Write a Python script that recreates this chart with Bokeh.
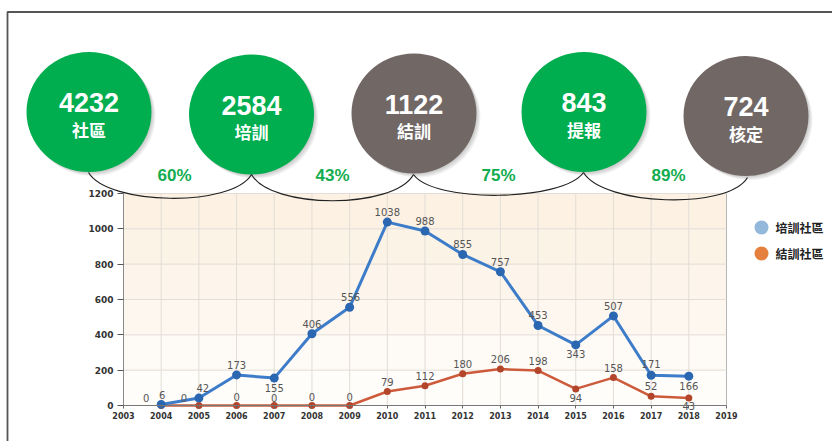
from bokeh.plotting import figure
from bokeh.models import (Range1d, FixedTicker, LinearAxis, ColumnDataSource, LabelSet)
from bokeh.core.properties import value
from bokeh.embed import file_html
from bokeh.resources import INLINE

# ---------------- data ----------------
years = [2004, 2005, 2006, 2007, 2008, 2009, 2010, 2011, 2012, 2013, 2014, 2015, 2016, 2017, 2018]
trained = [6, 42, 173, 155, 406, 556, 1038, 988, 855, 757, 453, 343, 507, 171, 166]
completed = [0, 0, 0, 0, 0, 0, 79, 112, 180, 206, 198, 94, 158, 52, 43]
x_ticks = [2003, 2004, 2005, 2006, 2007, 2008, 2009, 2010, 2011, 2012, 2013,
           2014, 2015, 2016, 2017, 2018, 2019]
y_ticks = [0, 200, 400, 600, 800, 1000, 1200]
series_names = ["培訓社區", "結訓社區"]

funnel_values = [4232, 2584, 1122, 843, 724]
funnel_labels = ["社區", "培訓", "結訓", "提報", "核定"]
funnel_rates = ["60%", "43%", "75%", "89%"]

# ---------------- layout / style (not data) ----------------
W, H = 832, 441
PX_L, PX_R = 123, 726          # pixel position of 2003 and 2019
PY_0, PY_T = 405, 193          # pixel position of 0 and 1200
X0, X1, YMAX = 2003, 2019, 1200
sx = (PX_R - PX_L) / (X1 - X0)
sy = (PY_0 - PY_T) / YMAX
x_range = Range1d(X0 - PX_L / sx, X0 + (W - PX_L) / sx)
y_range = Range1d(-(H - PY_0) / sy, YMAX + PY_T / sy)

GREEN = "#00ad4f"
GREY = "#716866"
circle_cx = [88.5, 251, 413.5, 583.5, 745.5]
circle_cy = [111.5, 114, 113, 111.5, 115.5]
circle_colors = [GREEN, GREEN, GREY, GREEN, GREY]
rate_x = [174, 332, 498, 668]
rate_y = 175
arc_start = [(88, 172), (251, 174), (413, 174), (583, 172)]
arc_end = [(251, 174), (413, 174), (583, 172), (747, 177)]
arc_depth = [33, 35, 29, 33]
legend_x, legend_y = [761, 761], [227, 253]
legend_colors = ["#93b8da", "#e5803f"]

band_edges = [0, 200, 400, 600, 800, 1000, 1200]
band_colors = ["#fffdfa", "#fefaf5", "#fdf7f0", "#fdf5eb", "#fcf3e7", "#fcf1e3"]

blue_dx = [1, 4, 0, 0, 0, 1, 0, 0, 0, 0, 0, 0, 0, 0, 0]
blue_dy = [9, 10, 10, -10, 10, 10, 10, 10, 10, 10, 10, -9, 10, 11, -10]
red_dx = [-15, -15, 0, 0, 0, 0, 0, 0, 0, 0, 0, 0, 0, 0, 0]
red_dy = [8, 8, 9, 8, 9, 9, 10, 10, 10, 10, 10, -9, 10, 10, -8]

p = figure(width=W, height=H, x_range=x_range, y_range=y_range,
           output_backend="svg", toolbar_location=None,
           x_axis_type=None, y_axis_type=None, min_border=0,
           outline_line_color=None, background_fill_color="white",
           border_fill_color="white")
p.extra_x_ranges = {"px": Range1d(0, W)}
p.extra_y_ranges = {"py": Range1d(H, 0)}
PXR = dict(x_range_name="px", y_range_name="py")

# ---------------- chart background & grid ----------------
p.quad(left=X0, right=X1, bottom=band_edges[:-1], top=band_edges[1:],
       fill_color=band_colors, line_color=None)
p.segment(x0=x_ticks[:-1], y0=0, x1=x_ticks[:-1], y1=YMAX, line_color="#e2ddd6", line_width=1)
p.segment(x0=[X1], y0=0, x1=[X1], y1=YMAX, line_color="#b5b5b5", line_width=1)
p.segment(x0=X0, y0=y_ticks[1:], x1=X1, y1=y_ticks[1:], line_color="#e2ddd6", line_width=1)

# ---------------- axes ----------------
xaxis = LinearAxis(ticker=FixedTicker(ticks=x_ticks), fixed_location=0, bounds=(X0, X1))
xaxis.axis_line_color = "#777777"
xaxis.major_tick_out = 3
xaxis.major_tick_in = 0
xaxis.major_tick_line_color = "#666666"
xaxis.minor_tick_line_color = None
xaxis.major_label_standoff = 3
xaxis.major_label_text_font = "DejaVu Sans"
xaxis.major_label_text_font_style = "bold"
xaxis.major_label_text_font_size = "8px"
xaxis.major_label_text_color = "#333333"
p.add_layout(xaxis, "below")

yaxis = LinearAxis(ticker=FixedTicker(ticks=y_ticks), fixed_location=X0, bounds=(0, YMAX))
yaxis.axis_line_color = "#8a8a8a"
yaxis.major_tick_out = 6
yaxis.major_tick_in = 0
yaxis.major_tick_line_color = "#555555"
yaxis.minor_tick_line_color = None
yaxis.major_label_standoff = 4
yaxis.major_label_text_font = "DejaVu Sans"
yaxis.major_label_text_font_style = "bold"
yaxis.major_label_text_font_size = "9px"
yaxis.major_label_text_color = "#333333"
p.add_layout(yaxis, "left")

# ---------------- series ----------------
src = ColumnDataSource(dict(
    x=years, trained=trained, completed=completed,
    t_txt=[str(v) for v in trained], c_txt=[str(v) for v in completed],
    bdx=blue_dx, bdy=blue_dy, rdx=red_dx, rdy=red_dy))

p.line("x", "completed", source=src, line_color="#cd5b3b", line_width=2.5)
p.scatter("x", "completed", source=src, size=7, fill_color="#b3452b", line_color=None)
p.line("x", "trained", source=src, line_color="#3d7cc9", line_width=3)
p.scatter("x", "trained", source=src, size=9, fill_color="#2b66b1", line_color=None)

lab_style = dict(text_font=value("DejaVu Sans"), text_font_size="10px", text_color="#555555",
                 text_align="center", text_baseline="middle")
p.add_layout(LabelSet(x="x", y="trained", text="t_txt", x_offset="bdx", y_offset="bdy",
                      source=src, **lab_style))
p.add_layout(LabelSet(x="x", y="completed", text="c_txt", x_offset="rdx", y_offset="rdy",
                      source=src, **lab_style))

# ---------------- legend ----------------
p.scatter(x=legend_x, y=legend_y, size=14, fill_color=legend_colors, line_color=None, **PXR)
p.text(x=[lx + 14 for lx in legend_x], y=legend_y, text=series_names,
       text_font=value("Noto Sans CJK TC"), text_font_style="bold", text_font_size="12px",
       text_color="#222222", text_align="left", text_baseline="middle", **PXR)

# ---------------- funnel circles ----------------
p.line(x=[7, 7, W], y=[H, 11.5, 11.5], line_color="#555555", line_width=1.8, **PXR)

for k in range(1, 5):
    p.ellipse(x=[c + k for c in circle_cx], y=[c + k for c in circle_cy], width=125, height=120,
              fill_color="#000000", fill_alpha=0.05, line_color=None, **PXR)
p.ellipse(x=circle_cx, y=circle_cy, width=125, height=120, fill_color=circle_colors,
          line_color=None, **PXR)
p.text(x=circle_cx, y=[c - 9.5 for c in circle_cy], text=[str(v) for v in funnel_values],
       text_font=value("Liberation Sans"), text_font_style="bold", text_font_size="27px",
       text_color="white", text_align="center", text_baseline="middle", **PXR)
p.text(x=circle_cx, y=[c + 17 for c in circle_cy], text=funnel_labels,
       text_font=value("Noto Sans CJK TC"), text_font_style="bold", text_font_size="17px",
       text_color="white", text_align="center", text_baseline="middle", **PXR)

bx0, by0, bx1, by1, bcx0, bcy0, bcx1, bcy1 = [], [], [], [], [], [], [], []
for (xa, ya), (xb, yb), d in zip(arc_start, arc_end, arc_depth):
    w = xb - xa
    bx0.append(xa); by0.append(ya); bx1.append(xb); by1.append(yb)
    bcx0.append(xa + 0.12 * w); bcy0.append(ya + d)
    bcx1.append(xb - 0.12 * w); bcy1.append(yb + d)
p.bezier(x0=bx0, y0=by0, x1=bx1, y1=by1, cx0=bcx0, cy0=bcy0, cx1=bcx1, cy1=bcy1,
         line_color="#222222", line_width=1.2, **PXR)

p.text(x=rate_x, y=[rate_y] * len(rate_x), text=funnel_rates,
       text_font=value("Liberation Sans"), text_font_style="bold", text_font_size="17px",
       text_color="#12ad50", text_align="center", text_baseline="middle", **PXR)

open("out.html", "w").write(file_html(p, INLINE))
